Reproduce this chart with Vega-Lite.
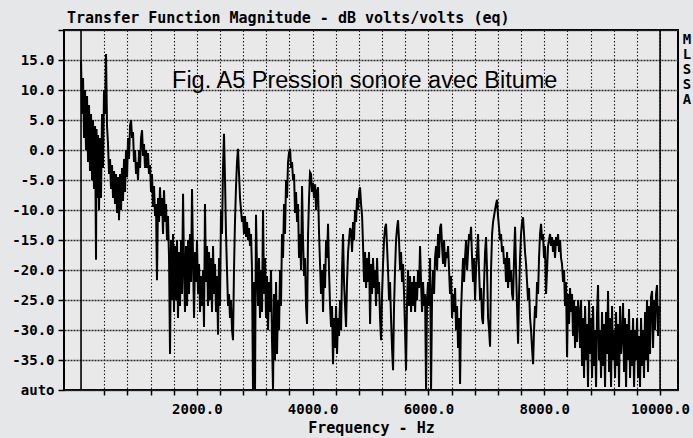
{
  "$schema": "https://vega.github.io/schema/vega-lite/v6.json",
  "width": 614,
  "height": 360,
  "autosize": "none",
  "padding": {"left": 64, "top": 30, "right": 15, "bottom": 48},
  "background": "#e6e7e8",
  "config": {"view": {"stroke": "black", "strokeWidth": 2, "fill": "#e9e9e9"}, "axis": {"labelOverlap": false}},
  "title": {"text": "Transfer Function Magnitude - dB volts/volts (eq)", "anchor": "start", "frame": "group", "font": "DejaVu Sans Mono", "fontSize": 15, "fontWeight": "bold", "color": "black", "offset": -3, "dx": 3},
  "layer": [
    {
      "data": {"values": [
{"f":0,"db":15},{"f":17,"db":6},{"f":35,"db":12},{"f":52,"db":2},{"f":69,"db":10},{"f":86,"db":0},{"f":104,"db":9},{"f":121,"db":-2},{"f":138,"db":7.5},{"f":155,"db":-3.5},{"f":173,"db":6},{"f":190,"db":-5},{"f":207,"db":5},{"f":224,"db":-6.5},{"f":242,"db":4},{"f":259,"db":-18.3},{"f":268,"db":3.5},{"f":276,"db":-8},{"f":294,"db":2.5},{"f":311,"db":-10},{"f":328,"db":2},{"f":345,"db":-8},{"f":363,"db":6},{"f":380,"db":-3},{"f":397,"db":10},{"f":414,"db":6},{"f":432,"db":16},{"f":449,"db":4},{"f":466,"db":1},{"f":484,"db":-4},
{"f":501,"db":-1.5},{"f":518,"db":-6.5},{"f":535,"db":-2.5},{"f":553,"db":-8},{"f":570,"db":-3.5},{"f":587,"db":-9},{"f":604,"db":-4},{"f":622,"db":-10.5},{"f":639,"db":-4.5},{"f":656,"db":-11.7},{"f":674,"db":-4},{"f":691,"db":-10},{"f":708,"db":-3},{"f":725,"db":-8.5},{"f":743,"db":-1.5},{"f":760,"db":-7},{"f":777,"db":0},{"f":795,"db":-4.5},{"f":812,"db":2},{"f":829,"db":-1.5},{"f":846,"db":4},{"f":864,"db":5},{"f":881,"db":2},{"f":898,"db":3},{"f":915,"db":-2},{"f":933,"db":0},{"f":950,"db":-4},{"f":967,"db":-2},{"f":984,"db":-5},{"f":1002,"db":0},{"f":1019,"db":-3},{"f":1036,"db":2},{"f":1054,"db":3.3},{"f":1071,"db":-1},{"f":1088,"db":1},{"f":1105,"db":-3},{"f":1123,"db":0},{"f":1140,"db":-3},{"f":1157,"db":-0.5},{"f":1174,"db":-4},{"f":1192,"db":-2.5},{"f":1209,"db":-7},{"f":1226,"db":-4},{"f":1243,"db":-9.5},{"f":1261,"db":-6},{"f":1278,"db":-11},{"f":1295,"db":-9},{"f":1312,"db":-21.7},{"f":1330,"db":-8},{"f":1347,"db":-12},{"f":1364,"db":-6.2},{"f":1382,"db":-11},{"f":1399,"db":-8},{"f":1416,"db":-14},{"f":1433,"db":-6.7},{"f":1451,"db":-12},{"f":1468,"db":-9},{"f":1485,"db":-15},{"f":1502,"db":-11},{"f":1520,"db":-18},{"f":1537,"db":-34},{"f":1554,"db":-15},{"f":1572,"db":-25},{"f":1589,"db":-14},{"f":1606,"db":-27},{"f":1623,"db":-16},{"f":1641,"db":-25},{"f":1658,"db":-15},{"f":1675,"db":-28},{"f":1692,"db":-17},{"f":1710,"db":-26},{"f":1727,"db":-15},{"f":1744,"db":-24},{"f":1762,"db":-7.3},{"f":1779,"db":-20},{"f":1796,"db":-27},{"f":1813,"db":-16},{"f":1831,"db":-26},{"f":1848,"db":-15},{"f":1865,"db":-24},{"f":1882,"db":-14},{"f":1900,"db":-22},{"f":1917,"db":-6.5},{"f":1934,"db":-18},{"f":1952,"db":-28},{"f":1969,"db":-17},{"f":1986,"db":-22},{"f":2003,"db":-15},{"f":2021,"db":-24},{"f":2038,"db":-19},{"f":2055,"db":-27},
{"f":2072,"db":-21},{"f":2090,"db":-26},{"f":2107,"db":-20},{"f":2124,"db":-29.5},{"f":2141,"db":-9},{"f":2159,"db":-22},{"f":2176,"db":-16},{"f":2193,"db":-26},{"f":2211,"db":-17},{"f":2228,"db":-25},{"f":2245,"db":-18},{"f":2262,"db":-27},{"f":2280,"db":-16},{"f":2297,"db":-24},{"f":2314,"db":-19},{"f":2331,"db":-27},{"f":2349,"db":-21},{"f":2366,"db":-30.8},{"f":2383,"db":-18},{"f":2400,"db":-26},{"f":2418,"db":-10},{"f":2435,"db":-14},{"f":2452,"db":-3},{"f":2469,"db":2.7},{"f":2487,"db":-5},{"f":2504,"db":-14},{"f":2521,"db":-20},{"f":2539,"db":-26},{"f":2556,"db":-24},{"f":2573,"db":-28},{"f":2590,"db":-25},{"f":2608,"db":-30},{"f":2625,"db":-31.7},{"f":2642,"db":-20},{"f":2659,"db":-12},{"f":2677,"db":-6},{"f":2694,"db":-2},{"f":2711,"db":0.2},{"f":2729,"db":-4},{"f":2746,"db":-8},{"f":2763,"db":-10},{"f":2780,"db":-12},{"f":2798,"db":-11},{"f":2815,"db":-14},{"f":2832,"db":-11},{"f":2850,"db":-14.5},{"f":2867,"db":-12},{"f":2884,"db":-15},{"f":2901,"db":-13},{"f":2919,"db":-16},{"f":2936,"db":-14},{"f":2953,"db":-20},{"f":2970,"db":-40},{"f":2988,"db":-22},{"f":3005,"db":-40},{"f":3022,"db":-10.8},{"f":3040,"db":-20},{"f":3057,"db":-26},{"f":3074,"db":-18},{"f":3091,"db":-28},{"f":3109,"db":-20},{"f":3126,"db":-27},{"f":3143,"db":-10},{"f":3161,"db":-24},{"f":3178,"db":-18},{"f":3195,"db":-28},{"f":3212,"db":-21},{"f":3230,"db":-30},{"f":3247,"db":-22},{"f":3264,"db":-27},{"f":3281,"db":-20},{"f":3299,"db":-32},{"f":3316,"db":-40},{"f":3333,"db":-24},{"f":3350,"db":-35},{"f":3368,"db":-22},{"f":3385,"db":-34},{"f":3402,"db":-25},{"f":3420,"db":-30},{"f":3437,"db":-20},{"f":3454,"db":-26},{"f":3471,"db":-14},{"f":3489,"db":-18},{"f":3506,"db":-9},{"f":3523,"db":-14},{"f":3541,"db":-5},{"f":3558,"db":-8},{"f":3575,"db":-2},{"f":3592,"db":-0.5},{"f":3610,"db":0.2},{"f":3627,"db":-3},{"f":3644,"db":-2},{"f":3662,"db":-5},{"f":3679,"db":-4},{"f":3696,"db":-10.5},{"f":3713,"db":-7},{"f":3731,"db":-12},{"f":3748,"db":-9},{"f":3765,"db":-18},{"f":3782,"db":-14},{"f":3800,"db":-20},{"f":3817,"db":-6},{"f":3834,"db":-15},{"f":3852,"db":-21},{"f":3869,"db":-18},{"f":3886,"db":-26},{"f":3903,"db":-29},{"f":3921,"db":-14},{"f":3938,"db":-8},{"f":3955,"db":-3.7},{"f":3972,"db":-4},{"f":3990,"db":-7},{"f":4007,"db":-5.5},{"f":4024,"db":-8},{"f":4042,"db":-5.7},{"f":4059,"db":-10},{"f":4076,"db":-7},{"f":4093,"db":-6.2},
{"f":4111,"db":-14},{"f":4128,"db":-19},{"f":4145,"db":-24},{"f":4163,"db":-20},{"f":4180,"db":-27},{"f":4197,"db":-19},{"f":4214,"db":-23},{"f":4232,"db":-15},{"f":4249,"db":-18},{"f":4266,"db":-12.3},{"f":4283,"db":-20},{"f":4301,"db":-26},{"f":4318,"db":-29.5},{"f":4335,"db":-26},{"f":4352,"db":-35.7},{"f":4370,"db":-28},{"f":4387,"db":-33},{"f":4404,"db":-26},{"f":4421,"db":-34},{"f":4439,"db":-28},{"f":4456,"db":-31},{"f":4473,"db":-25},{"f":4491,"db":-30},{"f":4508,"db":-20},{"f":4525,"db":-14},{"f":4542,"db":-22},{"f":4560,"db":-26},{"f":4577,"db":-29.5},{"f":4594,"db":-22},{"f":4612,"db":-17},{"f":4629,"db":-15},{"f":4646,"db":-13},{"f":4664,"db":-13.5},{"f":4681,"db":-17},{"f":4698,"db":-12},{"f":4715,"db":-15},{"f":4733,"db":-10},{"f":4750,"db":-12},{"f":4767,"db":-8},{"f":4785,"db":-10},{"f":4802,"db":-7},{"f":4819,"db":-6.2},{"f":4836,"db":-9},{"f":4854,"db":-11},{"f":4871,"db":-16},{"f":4888,"db":-22},{"f":4905,"db":-17},{"f":4923,"db":-23},{"f":4940,"db":-18},{"f":4957,"db":-22},{"f":4974,"db":-17},{"f":4992,"db":-29},{"f":5009,"db":-19},{"f":5026,"db":-24},{"f":5043,"db":-18},{"f":5061,"db":-23},{"f":5078,"db":-20},{"f":5095,"db":-26},{"f":5113,"db":-18},{"f":5130,"db":-24},{"f":5147,"db":-22},{"f":5164,"db":-28},{"f":5182,"db":-31.7},{"f":5199,"db":-24},{"f":5216,"db":-19},{"f":5233,"db":-15},{"f":5251,"db":-13},{"f":5268,"db":-12.3},{"f":5285,"db":-16},{"f":5302,"db":-20},{"f":5320,"db":-25},{"f":5337,"db":-22},{"f":5354,"db":-28},{"f":5371,"db":-33},{"f":5389,"db":-36.7},{"f":5406,"db":-26},{"f":5423,"db":-20},{"f":5441,"db":-15},{"f":5458,"db":-13},{"f":5475,"db":-11.7},{"f":5492,"db":-15},{"f":5510,"db":-20},{"f":5527,"db":-17},{"f":5544,"db":-22},{"f":5561,"db":-19},{"f":5579,"db":-24},{"f":5596,"db":-30},{"f":5613,"db":-36.7},{"f":5631,"db":-25},{"f":5648,"db":-20},{"f":5665,"db":-26},{"f":5682,"db":-21},{"f":5700,"db":-27},{"f":5717,"db":-22},{"f":5734,"db":-26},{"f":5751,"db":-21},{"f":5769,"db":-27},{"f":5786,"db":-22},{"f":5803,"db":-25},{"f":5821,"db":-20},{"f":5838,"db":-23},{"f":5855,"db":-16},{"f":5872,"db":-22},{"f":5890,"db":-27},{"f":5907,"db":-22},{"f":5924,"db":-26},{"f":5942,"db":-24},{"f":5959,"db":-40},{"f":5976,"db":-25},{"f":5993,"db":-22},{"f":6011,"db":-26},{"f":6028,"db":-18},{"f":6045,"db":-40},{"f":6063,"db":-24},
{"f":6080,"db":-20},{"f":6097,"db":-24},{"f":6114,"db":-18},{"f":6132,"db":-16},{"f":6149,"db":-20},{"f":6166,"db":-14},{"f":6184,"db":-18},{"f":6201,"db":-13},{"f":6218,"db":-12.3},{"f":6235,"db":-16},{"f":6253,"db":-19},{"f":6270,"db":-15},{"f":6287,"db":-19.5},{"f":6304,"db":-17},{"f":6322,"db":-18},{"f":6339,"db":-16},{"f":6356,"db":-20},{"f":6373,"db":-24},{"f":6391,"db":-21},{"f":6408,"db":-28},{"f":6425,"db":-24},{"f":6443,"db":-27},{"f":6460,"db":-23},{"f":6477,"db":-30},{"f":6494,"db":-26},{"f":6512,"db":-33},{"f":6529,"db":-28},{"f":6546,"db":-39},{"f":6563,"db":-27},{"f":6581,"db":-22},{"f":6598,"db":-18},{"f":6615,"db":-22},{"f":6632,"db":-18},{"f":6650,"db":-15},{"f":6667,"db":-20},{"f":6684,"db":-17},{"f":6702,"db":-14},{"f":6719,"db":-15},{"f":6736,"db":-12.8},{"f":6753,"db":-18},{"f":6771,"db":-22},{"f":6788,"db":-18},{"f":6805,"db":-25},{"f":6822,"db":-20},{"f":6840,"db":-17},{"f":6857,"db":-14},{"f":6874,"db":-20},{"f":6892,"db":-25},{"f":6909,"db":-23},{"f":6926,"db":-28},{"f":6943,"db":-29},{"f":6961,"db":-22},{"f":6978,"db":-17},{"f":6995,"db":-14.5},{"f":7012,"db":-20},{"f":7030,"db":-28},{"f":7047,"db":-30},{"f":7064,"db":-32.8},{"f":7081,"db":-20},{"f":7099,"db":-14},{"f":7116,"db":-12},{"f":7133,"db":-11},{"f":7150,"db":-10},{"f":7168,"db":-9},{"f":7185,"db":-8.3},{"f":7202,"db":-11},{"f":7220,"db":-13},{"f":7237,"db":-15},{"f":7254,"db":-14},{"f":7271,"db":-17},{"f":7289,"db":-16},{"f":7306,"db":-19},{"f":7323,"db":-18},{"f":7340,"db":-22},{"f":7358,"db":-17},{"f":7375,"db":-23},{"f":7392,"db":-18},{"f":7410,"db":-22},{"f":7427,"db":-20},{"f":7444,"db":-24},{"f":7461,"db":-25},{"f":7479,"db":-18},{"f":7496,"db":-12.8},{"f":7513,"db":-20},{"f":7530,"db":-26},{"f":7548,"db":-32.3},{"f":7565,"db":-24},{"f":7582,"db":-18},{"f":7599,"db":-14},{"f":7617,"db":-12},{"f":7634,"db":-11.2},{"f":7651,"db":-14},{"f":7668,"db":-17},{"f":7686,"db":-19},{"f":7703,"db":-22},{"f":7720,"db":-25},{"f":7737,"db":-23},{"f":7755,"db":-28},{"f":7772,"db":-30},{"f":7789,"db":-33},{"f":7807,"db":-35.7},{"f":7824,"db":-30},{"f":7841,"db":-26},{"f":7858,"db":-28},{"f":7876,"db":-22},{"f":7893,"db":-24},{"f":7910,"db":-18},{"f":7927,"db":-14},{"f":7945,"db":-12.3},{"f":7962,"db":-15},{"f":7979,"db":-14},{"f":7996,"db":-18},{"f":8014,"db":-16},{"f":8031,"db":-24},{"f":8048,"db":-20},{"f":8066,"db":-16},{"f":8083,"db":-15},{"f":8100,"db":-14},{"f":8117,"db":-16},{"f":8135,"db":-14.5},{"f":8152,"db":-17},{"f":8169,"db":-15},{"f":8186,"db":-18},{"f":8204,"db":-14.5},{"f":8221,"db":-16},{"f":8238,"db":-14},{"f":8256,"db":-17},{"f":8273,"db":-15},{"f":8290,"db":-18},{"f":8307,"db":-19},{"f":8325,"db":-22},{"f":8342,"db":-20},{"f":8359,"db":-26},{"f":8376,"db":-22},{"f":8394,"db":-34.5},{"f":8411,"db":-24},{"f":8428,"db":-29},{"f":8445,"db":-23},{"f":8463,"db":-27},{"f":8480,"db":-24},{"f":8497,"db":-31},{"f":8515,"db":-25},{"f":8532,"db":-33},{"f":8549,"db":-26},{"f":8566,"db":-32},{"f":8584,"db":-25},
{"f":8601,"db":-27},{"f":8618,"db":-33},{"f":8636,"db":-25},{"f":8653,"db":-36},{"f":8670,"db":-28},{"f":8687,"db":-38},{"f":8705,"db":-26},{"f":8722,"db":-35},{"f":8739,"db":-29},{"f":8756,"db":-39.5},{"f":8774,"db":-25},{"f":8791,"db":-34},{"f":8808,"db":-28},{"f":8826,"db":-38},{"f":8843,"db":-26},{"f":8860,"db":-36},{"f":8877,"db":-30},{"f":8895,"db":-39.5},{"f":8912,"db":-27},{"f":8929,"db":-22.5},{"f":8946,"db":-35},{"f":8964,"db":-30},{"f":8981,"db":-38},{"f":8998,"db":-27},{"f":9015,"db":-36},{"f":9033,"db":-29},{"f":9050,"db":-39.5},{"f":9067,"db":-27},{"f":9085,"db":-34},{"f":9102,"db":-23.5},{"f":9119,"db":-37},{"f":9136,"db":-28},{"f":9154,"db":-39.5},{"f":9171,"db":-26},{"f":9188,"db":-35},{"f":9205,"db":-30},{"f":9223,"db":-38},{"f":9240,"db":-27},{"f":9257,"db":-36},{"f":9275,"db":-29},{"f":9292,"db":-39.5},{"f":9309,"db":-26},{"f":9326,"db":-34},{"f":9344,"db":-31},{"f":9361,"db":-25.5},{"f":9378,"db":-37},{"f":9395,"db":-28},{"f":9413,"db":-39.5},{"f":9430,"db":-29},{"f":9447,"db":-35},{"f":9464,"db":-26.5},{"f":9482,"db":-38},{"f":9499,"db":-30},{"f":9516,"db":-36},{"f":9534,"db":-28},{"f":9551,"db":-39.5},{"f":9568,"db":-30},{"f":9585,"db":-35},{"f":9603,"db":-28},{"f":9620,"db":-38},{"f":9637,"db":-31},{"f":9654,"db":-39.5},{"f":9672,"db":-28},{"f":9689,"db":-36},{"f":9706,"db":-30},{"f":9723,"db":-38},{"f":9741,"db":-27},{"f":9758,"db":-35},{"f":9775,"db":-25},{"f":9792,"db":-37},{"f":9810,"db":-26},{"f":9827,"db":-34},{"f":9844,"db":-24.5},{"f":9862,"db":-23.5},{"f":9879,"db":-33},{"f":9896,"db":-25},{"f":9913,"db":-30},{"f":9931,"db":-24},{"f":9948,"db":-22.5},{"f":9965,"db":-31},{"f":9982,"db":-26},{"f":10000,"db":-27}
      ]},
      "mark": {"type": "line", "color": "black", "strokeWidth": 2, "clip": true},
      "encoding": {
        "x": {"field": "f", "type": "quantitative",
          "scale": {"domain": [-294, 10310], "nice": false, "zero": false},
          "axis": {"values": [400,800,1200,1600,2000,2400,2800,3200,3600,4000,4400,4800,5200,5600,6000,6400,6800,7200,7600,8000,8400,8800,9200,9600,10000],
            "tickCount": 100,
            "grid": true, "gridDash": [1.5, 2], "gridColor": "#222", "gridWidth": 1.1,
            "domain": false, "tickColor": "black", "tickSize": 5, "tickWidth": 1.5,
            "labelExpr": "datum.value % 2000 == 0 ? format(datum.value, '.1f') : ''",
            "labelFont": "DejaVu Sans Mono", "labelFontWeight": "bold", "labelFontSize": 14, "labelColor": "black",
            "labelPadding": 7, "labelOverlap": false, "labelFlush": false, "labelBound": false,
            "title": "Frequency - Hz", "titleFont": "DejaVu Sans Mono", "titleFontSize": 15, "titleFontWeight": "bold", "titleColor": "black", "titlePadding": 4}},
        "y": {"field": "db", "type": "quantitative",
          "scale": {"domain": [-40, 20], "nice": false, "zero": false},
          "axis": {"values": [-40,-35,-30,-25,-20,-15,-10,-5,0,5,10,15,20],
            "tickCount": 100,
            "grid": true, "gridDash": [2, 1], "gridColor": "#2a2a2a", "gridWidth": 1.4,
            "domain": false, "tickColor": "black", "tickSize": 6, "tickWidth": 1.5,
            "labelExpr": "datum.value == -40 ? 'auto' : datum.value == 20 ? '' : (datum.value < 0 ? '-' : '') + format(abs(datum.value), '.1f')",
            "labelFont": "DejaVu Sans Mono", "labelFontWeight": "bold", "labelFontSize": 14, "labelColor": "black",
            "labelPadding": 4, "labelOverlap": false, "labelFlush": false, "labelBound": false,
            "title": null}}
      }
    },
    {
      "data": {"values": [{"f": 0}, {"f": 10000}]},
      "mark": {"type": "rule", "color": "black", "strokeWidth": 1.6},
      "encoding": {"x": {"field": "f", "type": "quantitative"}}
    },
    {
      "data": {"values": [{}]},
      "mark": {"type": "text", "text": "Fig. A5 Pression sonore avec Bitume", "font": "Liberation Sans", "fontSize": 23.5, "color": "black", "align": "left", "baseline": "alphabetic"},
      "encoding": {"x": {"datum": 1572}, "y": {"datum": 10.4}}
    },
    {
      "data": {"values": [{}]},
      "mark": {"type": "text", "text": "M\nL\nS\nS\nA", "lineBreak": "\n", "lineHeight": 15, "font": "DejaVu Sans Mono", "fontSize": 14, "fontWeight": "bold", "color": "black", "align": "center", "baseline": "top", "clip": false},
      "encoding": {"x": {"datum": 10466}, "y": {"datum": 19.5}}
    }
  ]
}
